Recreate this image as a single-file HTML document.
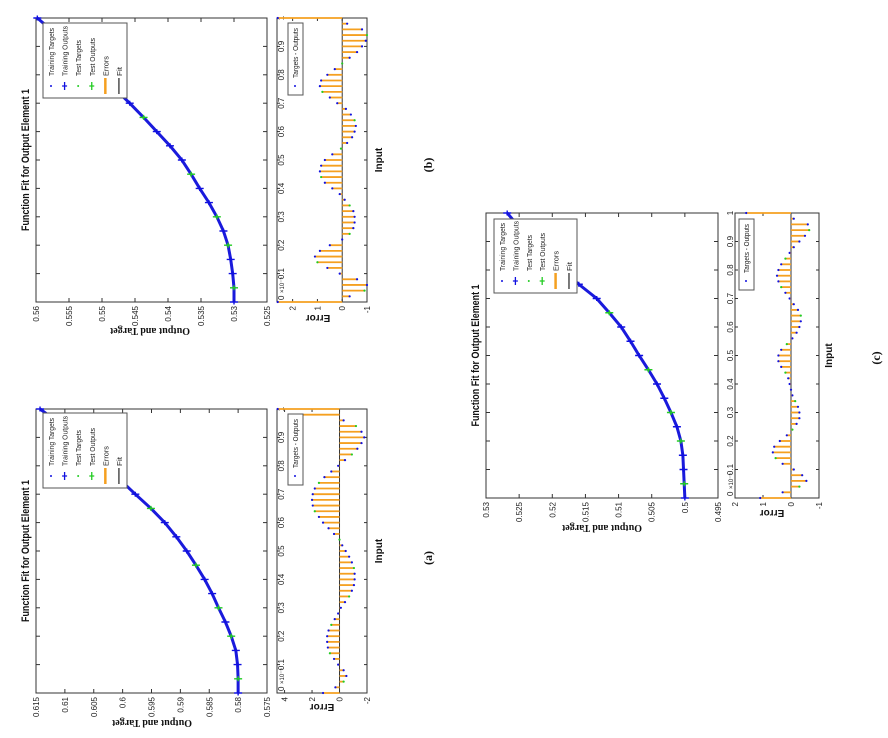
<!DOCTYPE html>
<html><head><meta charset="utf-8"><style>
html,body{margin:0;padding:0;background:#fff;width:888px;height:738px;overflow:hidden}
svg text{font-family:"Liberation Sans",sans-serif}
</style></head><body>
<svg id="fig" width="888" height="738" xmlns="http://www.w3.org/2000/svg"></svg>
<script>
// ---------- data ----------
const inputTicks = [0,0.1,0.2,0.3,0.4,0.5,0.6,0.7,0.8,0.9,1];
const inputTickLabels = ["0","0.1","0.2","0.3","0.4","0.5","0.6","0.7","0.8","0.9","1"];
const outInputs = [0,0.05,0.1,0.15,0.2,0.25,0.3,0.35,0.4,0.45,0.5,0.55,0.6,0.65,0.7,0.75,0.8,0.85,0.9,0.95,1];
const errInputs = [0,0.02,0.04,0.06,0.08,0.1,0.12,0.14,0.16,0.18,0.2,0.22,0.24,0.26,0.28,0.3,0.32,0.34,0.36,0.38,0.4,0.42,0.44,0.46,0.48,0.5,0.52,0.54,0.56,0.58,0.6,0.62,0.64,0.66,0.68,0.7,0.72,0.74,0.76,0.78,0.8,0.82,0.84,0.86,0.88,0.9,0.92,0.94,0.96,0.98,1];
const testIdx = [1,4,6,9,13,16];

const outputA = [0.5800,0.5800,0.5801,0.5804,0.5812,0.5822,0.5834,0.5845,0.5858,0.5873,0.5889,0.5907,0.5927,0.5951,0.5978,0.6004,0.6030,0.6055,0.6080,0.6110,0.6143];
const outputB = [0.5300,0.5300,0.5302,0.5305,0.5309,0.5316,0.5326,0.5338,0.5352,0.5365,0.5379,0.5397,0.5417,0.5437,0.5458,0.5480,0.5502,0.5525,0.5548,0.5573,0.5598];
const outputC = [0.5000,0.5001,0.5002,0.5003,0.5006,0.5012,0.5021,0.5031,0.5042,0.5055,0.5069,0.5082,0.5096,0.5114,0.5133,0.5160,0.5185,0.5208,0.5230,0.5250,0.5268];

const errorA = [1.2,0.3,-0.3,-0.5,-0.3,0.1,0.4,0.7,0.85,0.9,0.9,0.8,0.6,0.35,0.1,-0.1,-0.4,-0.7,-0.9,-1.05,-1.1,-1.1,-1.05,-0.9,-0.7,-0.45,-0.2,0.0,0.4,0.8,1.2,1.5,1.8,1.95,2.0,1.95,1.8,1.5,1.1,0.6,0.1,-0.4,-0.9,-1.3,-1.6,-1.8,-1.6,-1.2,-0.3,2.8,4.5];
const errorB = [2.6,-0.3,-0.9,-1.0,-0.6,0.1,0.6,1.0,1.1,0.9,0.5,0.0,-0.3,-0.45,-0.5,-0.5,-0.45,-0.3,-0.1,0.1,0.4,0.7,0.85,0.9,0.85,0.7,0.4,0.05,-0.2,-0.4,-0.5,-0.55,-0.5,-0.35,-0.15,0.2,0.5,0.8,0.9,0.85,0.6,0.3,0.0,-0.3,-0.6,-0.8,-0.95,-1.0,-0.8,-0.2,2.6];
const errorC = [1.1,0.3,-0.3,-0.55,-0.4,-0.1,0.3,0.55,0.65,0.6,0.4,0.15,-0.05,-0.2,-0.3,-0.3,-0.25,-0.15,-0.05,0.0,0.05,0.1,0.2,0.35,0.45,0.45,0.35,0.15,-0.05,-0.2,-0.3,-0.35,-0.35,-0.25,-0.1,0.05,0.2,0.35,0.45,0.5,0.45,0.35,0.2,0.05,-0.1,-0.3,-0.5,-0.65,-0.6,-0.1,1.6];

const outTicksA = [0.575,0.58,0.585,0.59,0.595,0.6,0.605,0.61,0.615];
const outTicksB = [0.525,0.53,0.535,0.54,0.545,0.55,0.555,0.56];
const outTicksC = [0.495,0.5,0.505,0.51,0.515,0.52,0.525,0.53];
const errTicksA = [-2,0,2,4];
const errTicksB = [-1,0,1,2];
const errTicksC = [-1,0,1,2];

// ---------- layout ----------
const panels = [
 {id:'a', out:outputA, err:errorA, oT:outTicksA, eT:errTicksA, oMin:0.575,oMax:0.615, eMin:-2,eMax:4.55,
  mx0:36,mx1:267, y0:693,y1:409, ex0:277,ex1:367, tlX:284, leg:[43,413,127,488], eleg:[288,414,303,485], lab:'(a)', labX:432, labY:558, titleX:29, ylabX:152, ylabY:720, errX:322, errY:704, inX:382},
 {id:'b', out:outputB, err:errorB, oT:outTicksB, eT:errTicksB, oMin:0.525,oMax:0.56, eMin:-1,eMax:2.63,
  mx0:36,mx1:267, y0:302,y1:18, ex0:277,ex1:367, tlX:284, leg:[43,23,127,98], eleg:[288,23,303,95], lab:'(b)', labX:432, labY:165, titleX:29, ylabX:150, ylabY:328, errX:318, errY:315, inX:382},
 {id:'c', out:outputC, err:errorC, oT:outTicksC, eT:errTicksC, oMin:0.495,oMax:0.53, eMin:-1,eMax:2,
  mx0:486,mx1:718, y0:498,y1:213, ex0:735,ex1:819, tlX:733, leg:[494,219,577,293], eleg:[739,219,754,290], lab:'(c)', labX:880, labY:358, titleX:479, ylabX:602, ylabY:525, errX:772, errY:510, inX:832}
];

const svg = document.getElementById('fig');
const NS='http://www.w3.org/2000/svg';
function mk(tag, attrs, parent){const e=document.createElementNS(NS,tag);for(const k in attrs)e.setAttribute(k,attrs[k]);(parent||svg).appendChild(e);return e;}
function txt(s, x, y, rot, attrs, parent){const t=mk('text',Object.assign({x:x,y:y,transform:`rotate(${rot} ${x} ${y})`},attrs),parent);t.textContent=s;return t;}

panels.forEach(p=>{
  const g=mk('g',{});
  
  
  const yS=t=>p.y0-(p.y0-p.y1)*t;
  const xO=v=>p.mx0+(p.oMax-v)/(p.oMax-p.oMin)*(p.mx1-p.mx0);
  const xE=v=>p.ex0+(p.eMax-v)/(p.eMax-p.eMin)*(p.ex1-p.ex0);

  const mb=mk('rect',{x:p.mx0,y:p.y1,width:p.mx1-p.mx0,height:p.y0-p.y1,fill:'none',stroke:'#333','stroke-width':1},g);
  
  
  const eb=mk('rect',{x:p.ex0,y:p.y1,width:p.ex1-p.ex0,height:p.y0-p.y1,fill:'none',stroke:'#333','stroke-width':1},g);
  
  

  inputTicks.forEach((t,i)=>{
    const y=yS(t);
    mk('line',{x1:p.mx0,x2:p.mx0+4,y1:y,y2:y,stroke:'#333'},g);
    mk('line',{x1:p.mx1-4,x2:p.mx1,y1:y,y2:y,stroke:'#333'},g);
    mk('line',{x1:p.ex0,x2:p.ex0+3,y1:y,y2:y,stroke:'#333'},g);
    mk('line',{x1:p.ex1-3,x2:p.ex1,y1:y,y2:y,stroke:'#333'},g);
    const tl=txt(inputTickLabels[i], p.tlX, i==0?y-2:y, -90, {'font-size':8,'text-anchor':i==0?'start':'middle',fill:'#222'},g);
    
    
  });
  const ex=txt('×10⁻⁵', p.tlX, yS(0)-9, -90, {'font-size':6,'text-anchor':'start',fill:'#222'},g);
  
  

  p.oT.forEach(v=>{
    const x=xO(v);
    mk('line',{x1:x,x2:x,y1:p.y1,y2:p.y1+4,stroke:'#333'},g);
    mk('line',{x1:x,x2:x,y1:p.y0-4,y2:p.y0,stroke:'#333'},g);
    const tl=txt(String(v), x+3, p.y0+4, -90, {'font-size':8,'text-anchor':'end',fill:'#222'},g);
    
    
  });
  p.eT.forEach(v=>{
    const x=xE(v);
    mk('line',{x1:x,x2:x,y1:p.y1,y2:p.y1+3,stroke:'#333'},g);
    mk('line',{x1:x,x2:x,y1:p.y0-3,y2:p.y0,stroke:'#333'},g);
    const tl=txt(String(v), x+3, p.y0+4, -90, {'font-size':8,'text-anchor':'end',fill:'#222'},g);
    
    
  });

  const fit=mk('polyline',{points:outInputs.map((t,i)=>xO(p.out[i])+','+yS(t)).join(' '),fill:'none',stroke:'#1a1adc','stroke-width':3},g);
  
  
  outInputs.forEach((t,i)=>{
    const x=xO(p.out[i]), y=yS(t);
    const col=testIdx.includes(i)?'#22cc22':'#1010e0';
    const m=mk('path',{d:`M${x-4},${y}H${x+4}M${x},${y-2.5}V${y+2.5}`,stroke:col,'stroke-width':1.4},g);
    
    
  });

  const zx=xE(0);
  mk('line',{x1:zx,x2:zx,y1:p.y1,y2:p.y0,stroke:'#333','stroke-width':1},g);
  errInputs.forEach((t,i)=>{
    const y=yS(t), x=xE(p.err[i]);
    const s=mk('line',{x1:zx,x2:x,y1:y,y2:y,stroke:'#f5a020','stroke-width':1.8},g);
    
    
    const d=mk('circle',{cx:x,cy:y,r:1.1,fill:(i%5==2)?'#22cc22':'#1010e0'},g);
    
    
  });

  const [lx0,ly0,lx1,ly1]=p.leg;
  const lg=mk('g',{},g);
  
  
  mk('rect',{x:lx0,y:ly0,width:lx1-lx0,height:ly1-ly0,fill:'#fff',stroke:'#555'},lg);
  const names=['Training Targets','Training Outputs','Test Targets','Test Outputs','Errors','Fit'];
  const lens=[48,50,36,38,20,9];
  const step=(lx1-lx0-12)/5.3;
  names.forEach((n,i)=>{
    const x=lx0+10+i*step, sy=ly1-12;
    if(i==0) mk('circle',{cx:x-2,cy:sy,r:1,fill:'#1010e0'},lg);
    if(i==1) mk('path',{d:`M${x-2},${sy-4}V${sy+4}M${x-4.5},${sy}H${x+0.5}`,stroke:'#1010e0','stroke-width':1.3},lg);
    if(i==2) mk('circle',{cx:x-2,cy:sy,r:1,fill:'#22cc22'},lg);
    if(i==3) mk('path',{d:`M${x-2},${sy-4}V${sy+4}M${x-4.5},${sy}H${x+0.5}`,stroke:'#22cc22','stroke-width':1.3},lg);
    if(i==4) mk('line',{x1:x-2,x2:x-2,y1:sy-8,y2:sy+8,stroke:'#f5a020','stroke-width':2.5},lg);
    if(i==5) mk('line',{x1:x-2,x2:x-2,y1:sy-8,y2:sy+8,stroke:'#222','stroke-width':1.2},lg);
    const e=txt(n, x+1, ly1-22, -90, {'font-size':7,fill:'#222',textLength:lens[i],lengthAdjust:'spacingAndGlyphs'},lg);
    
    
  });
  const [ex0,ey0,ex1,ey1]=p.eleg;
  const el=mk('g',{},g);
  
  
  mk('rect',{x:ex0,y:ey0,width:ex1-ex0,height:ey1-ey0,fill:'#fff',stroke:'#555'},el);
  mk('circle',{cx:ex0+7,cy:ey1-9,r:1,fill:'#1010e0'},el);
  txt('Targets - Outputs', ex0+10, ey1-17, -90, {'font-size':7,fill:'#222',textLength:ey1-ey0-22,lengthAdjust:'spacingAndGlyphs'},el);

  const yc=(p.y0+p.y1)/2;
  const ti=txt('Function Fit for Output Element 1', p.titleX, yc, -90, {'font-size':11,'font-weight':'bold','text-anchor':'middle',fill:'#111',textLength:142,lengthAdjust:'spacingAndGlyphs'},g);
  
  
  const yl=txt('Output and Target', p.ylabX, p.ylabY, 180, {'font-size':10,'font-weight':'bold','text-anchor':'middle',fill:'#111',style:'font-family:"Liberation Serif",serif'},g);
  
  
  const er=txt('Error', p.errX, p.errY, 180, {'font-size':10,'font-weight':'bold','text-anchor':'middle',fill:'#111'},g);
  
  
  const il=txt('Input', p.inX, yc, -90, {'font-size':10,'font-weight':'bold','text-anchor':'middle',fill:'#111'},g);
  
  
  const pl=txt(p.lab, p.labX, p.labY, -90, {'font-size':12,'font-weight':'bold','text-anchor':'middle',fill:'#111',style:'font-family:"Liberation Serif",serif'},g);
  
  
});
</script>
</body></html>
